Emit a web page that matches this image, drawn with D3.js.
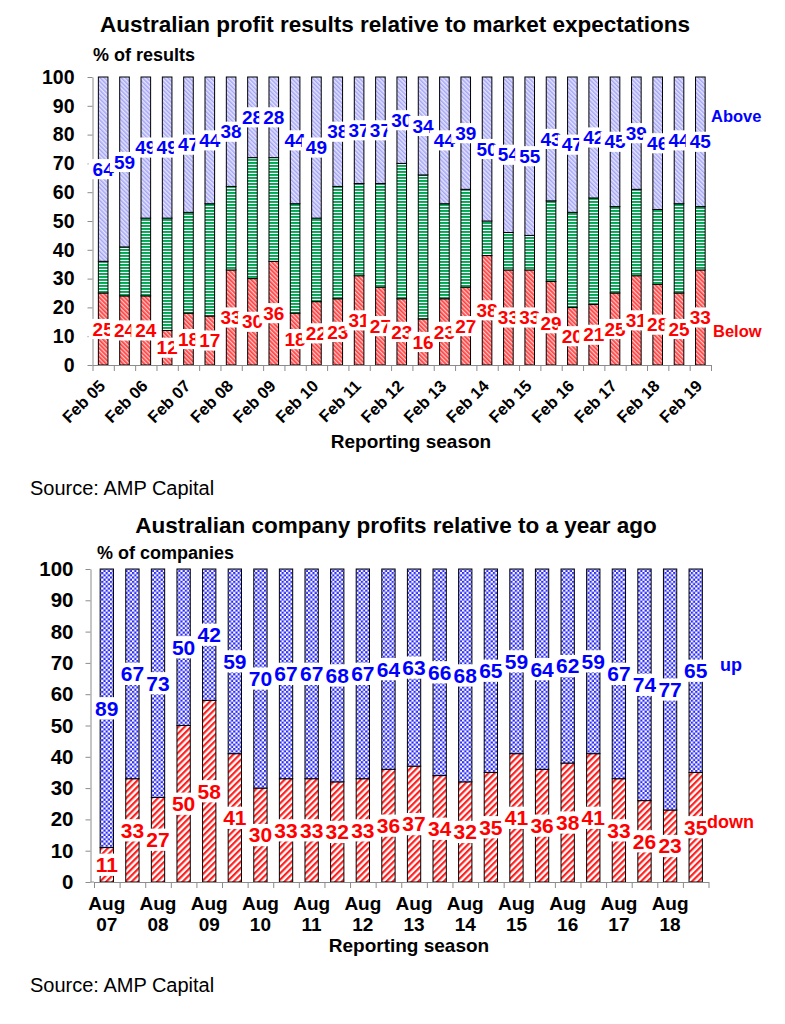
<!DOCTYPE html>
<html>
<head>
<meta charset="utf-8">
<script src="https://cdn.jsdelivr.net/npm/d3@7"></script>
<style>
  body { margin: 0; background: #fff; }
  svg { font-family: Arial, "Liberation Sans", sans-serif; }
</style>
</head>
<body>
<svg id="chart" width="785" height="1024"></svg>
<script>
// --- Data: profit results vs expectations (top chart) ---
const resultSeasons = ["Feb 05","Aug 05","Feb 06","Aug 06","Feb 07","Aug 07","Feb 08","Aug 08",
  "Feb 09","Aug 09","Feb 10","Aug 10","Feb 11","Aug 11","Feb 12","Aug 12","Feb 13","Aug 13",
  "Feb 14","Aug 14","Feb 15","Aug 15","Feb 16","Aug 16","Feb 17","Aug 17","Feb 18","Aug 18","Feb 19"];
const resultsBelow = [25,24,24,12,18,17,33,30,36,18,22,23,31,27,23,16,23,27,38,33,33,29,20,21,25,31,28,25,33];
const resultsAbove = [64,59,49,49,47,44,38,28,28,44,49,38,37,37,30,34,44,39,50,54,55,43,47,42,45,39,46,44,45];

// --- Data: profits vs a year ago (bottom chart) ---
const profitSeasons = ["Aug 07","Feb 08","Aug 08","Feb 09","Aug 09","Feb 10","Aug 10","Feb 11",
  "Aug 11","Feb 12","Aug 12","Feb 13","Aug 13","Feb 14","Aug 14","Feb 15","Aug 15","Feb 16",
  "Aug 16","Feb 17","Aug 17","Feb 18","Aug 18","Feb 19"];
const profitsDown = [11,33,27,50,58,41,30,33,33,32,33,36,37,34,32,35,41,36,38,41,33,26,23,35];
const profitsUp   = [89,67,73,50,42,59,70,67,67,68,67,64,63,66,68,65,59,64,62,59,67,74,77,65];

const yTicks = d3.range(0, 101, 10);

const svg = d3.select("#chart");
const defs = svg.append("defs");

// --- Fill patterns ---
function hatch(id, size, bg, fg, lineW, angle) {
  const p = defs.append("pattern")
    .attr("id", id)
    .attr("patternUnits", "userSpaceOnUse")
    .attr("width", size).attr("height", size)
    .attr("patternTransform", `rotate(${angle})`);
  p.append("rect").attr("width", size).attr("height", size).attr("fill", bg);
  p.append("rect").attr("width", lineW).attr("height", size).attr("fill", fg);
}
hatch("pAbove", 3, "#e4e4ff", "#a4a4f4", 1.5, -45);
hatch("pBelow", 3, "#ffc8c8", "#ff4040", 1.7, -45);
hatch("pDown", 4.5, "#ffffff", "#ff1f1f", 2.2, 45);

const pInline = defs.append("pattern")
  .attr("id", "pInline")
  .attr("patternUnits", "userSpaceOnUse")
  .attr("width", 4).attr("height", 3);
pInline.append("rect").attr("width", 4).attr("height", 3).attr("fill", "#ffffff");
pInline.append("rect").attr("width", 4).attr("height", 1.9).attr("fill", "#00a651");

const pUp = defs.append("pattern")
  .attr("id", "pUp")
  .attr("patternUnits", "userSpaceOnUse")
  .attr("width", 4.4).attr("height", 4.4);
pUp.append("rect").attr("width", 4.4).attr("height", 4.4).attr("fill", "#ffffff");
pUp.append("rect").attr("width", 2.2).attr("height", 2.2).attr("fill", "#2b2bf2");
pUp.append("rect").attr("x", 2.2).attr("y", 2.2).attr("width", 2.2).attr("height", 2.2).attr("fill", "#2b2bf2");

// value label with white box; later labels cover earlier ones
function valueLabel(g, x, y, txt, color, size, pad) {
  const lg = g.append("g");
  const t = lg.append("text")
    .attr("x", x).attr("y", y)
    .attr("dy", "0.35em")
    .attr("text-anchor", "middle")
    .attr("font-size", size)
    .attr("font-weight", "bold")
    .attr("fill", color)
    .text(txt);
  const w = t.node().getComputedTextLength();
  lg.insert("rect", "text")
    .attr("x", x - w / 2 - pad)
    .attr("y", y - size * 0.53)
    .attr("width", w + pad * 2)
    .attr("height", size * 1.06)
    .attr("fill", "#fff");
}

function drawAxes(g, cfg, n) {
  const y = cfg.y;
  const yAxis = g.append("g")
    .attr("transform", `translate(${cfg.axisX},0)`)
    .call(d3.axisLeft(y).tickValues(yTicks).tickSize(5).tickSizeOuter(0).tickPadding(cfg.yPad));
  yAxis.selectAll("text")
    .attr("font-size", cfg.yFont)
    .attr("font-weight", "bold")
    .attr("fill", "#000")
    .attr("font-family", "Arial, 'Liberation Sans', sans-serif");
  yAxis.selectAll("line,path").attr("stroke", "#8c8c8c");

  const xb = d3.scaleLinear().domain([0, n]).range(cfg.xRange);
  const xAxis = g.append("g")
    .attr("transform", `translate(0,${y(0)})`)
    .call(d3.axisBottom(xb).tickValues(d3.range(0, n + 1)).tickFormat("").tickSize(6).tickSizeOuter(0));
  xAxis.selectAll("line,path").attr("stroke", "#8c8c8c");
  g.append("line")
    .attr("x1", cfg.axisX).attr("x2", cfg.xRange[0])
    .attr("y1", y(0)).attr("y2", y(0))
    .attr("stroke", "#8c8c8c");
}

// ================= Top chart =================
{
  const g = svg.append("g");
  const y = d3.scaleLinear().domain([0, 100]).range([365, 77]);
  const x = d3.scaleBand().domain(resultSeasons).range([92.5, 711]).paddingInner(0.55).paddingOuter(0.275);
  const n = resultSeasons.length;

  const rows = resultSeasons.map((s, i) => ({
    season: s,
    below: resultsBelow[i],
    above: resultsAbove[i],
    inline: 100 - resultsBelow[i] - resultsAbove[i]
  }));

  const bars = g.selectAll(".bar").data(rows).join("g").attr("class", "bar");
  bars.append("rect")
    .attr("x", d => x(d.season)).attr("width", x.bandwidth())
    .attr("y", d => y(d.below)).attr("height", d => y(0) - y(d.below))
    .attr("fill", "url(#pBelow)").attr("stroke", "#000").attr("stroke-width", 1);
  bars.append("rect")
    .attr("x", d => x(d.season)).attr("width", x.bandwidth())
    .attr("y", d => y(d.below + d.inline)).attr("height", d => y(d.below) - y(d.below + d.inline))
    .attr("fill", "url(#pInline)").attr("stroke", "#000").attr("stroke-width", 1);
  bars.append("rect")
    .attr("x", d => x(d.season)).attr("width", x.bandwidth())
    .attr("y", d => y(100)).attr("height", d => y(100 - d.above) - y(100))
    .attr("fill", "url(#pAbove)").attr("stroke", "#000").attr("stroke-width", 1);

  drawAxes(g, { y: y, axisX: 92.5, xRange: [92.5, 711], yPad: 13, yFont: 19.5 }, n);

  const labels = g.append("g");
  rows.forEach(d => {
    valueLabel(labels, x(d.season) + x.bandwidth() / 2, y(d.below / 2), d.below, "#ff0000", 19, 4);
  });
  rows.forEach(d => {
    valueLabel(labels, x(d.season) + x.bandwidth() / 2, y(100 - d.above / 2), d.above, "#0000ff", 19, 4);
  });

  // season labels (every second one)
  g.append("g").selectAll("text")
    .data(rows.filter((d, i) => i % 2 === 0))
    .join("text")
    .attr("transform", d => `translate(${x(d.season) + x.bandwidth() / 2 + 3},387) rotate(-45)`)
    .attr("text-anchor", "end")
    .attr("font-size", 16.5)
    .attr("font-weight", "bold")
    .text(d => d.season);

  g.append("text").attr("x", 395).attr("y", 32).attr("text-anchor", "middle")
    .attr("font-size", 22.5).attr("font-weight", "bold").text("Australian profit results relative to market expectations");
  g.append("text").attr("x", 93).attr("y", 61)
    .attr("font-size", 18).attr("font-weight", "bold").text("% of results");
  g.append("text").attr("x", 411).attr("y", 448).attr("text-anchor", "middle")
    .attr("font-size", 19).attr("font-weight", "bold").text("Reporting season");
  g.append("text").attr("x", 711).attr("y", 122)
    .attr("font-size", 16.5).attr("font-weight", "bold").attr("fill", "#0000ff").text("Above");
  g.append("text").attr("x", 713).attr("y", 337)
    .attr("font-size", 16.5).attr("font-weight", "bold").attr("fill", "#ff0000").text("Below");
  g.append("text").attr("x", 30).attr("y", 495)
    .attr("font-size", 20).attr("fill", "#000").text("Source: AMP Capital");
}

// ================= Bottom chart =================
{
  const g = svg.append("g");
  const y = d3.scaleLinear().domain([0, 100]).range([882, 569]);
  const x = d3.scaleBand().domain(profitSeasons).range([94, 708.5]).paddingInner(0.48).paddingOuter(0.24);
  const n = profitSeasons.length;

  const rows = profitSeasons.map((s, i) => ({ season: s, down: profitsDown[i], up: profitsUp[i] }));

  const bars = g.selectAll(".bar").data(rows).join("g").attr("class", "bar");
  bars.append("rect")
    .attr("x", d => x(d.season)).attr("width", x.bandwidth())
    .attr("y", d => y(d.down)).attr("height", d => y(0) - y(d.down))
    .attr("fill", "url(#pDown)").attr("stroke", "#000").attr("stroke-width", 1);
  bars.append("rect")
    .attr("x", d => x(d.season)).attr("width", x.bandwidth())
    .attr("y", d => y(100)).attr("height", d => y(100 - d.up) - y(100))
    .attr("fill", "url(#pUp)").attr("stroke", "#000").attr("stroke-width", 1);

  drawAxes(g, { y: y, axisX: 90.5, xRange: [94, 708.5], yPad: 12, yFont: 20.5 }, n);

  const labels = g.append("g");
  rows.forEach(d => {
    valueLabel(labels, x(d.season) + x.bandwidth() / 2, y(d.down / 2), d.down, "#ff0000", 21, 2);
  });
  rows.forEach(d => {
    valueLabel(labels, x(d.season) + x.bandwidth() / 2, y(100 - d.up / 2), d.up, "#0000ff", 21, 2);
  });

  const ticks = g.append("g").selectAll("text")
    .data(rows.filter((d, i) => i % 2 === 0))
    .join("text")
    .attr("text-anchor", "middle")
    .attr("font-size", 19)
    .attr("font-weight", "bold");
  ticks.append("tspan")
    .attr("x", d => x(d.season) + x.bandwidth() / 2).attr("y", 910)
    .text(d => d.season.split(" ")[0]);
  ticks.append("tspan")
    .attr("x", d => x(d.season) + x.bandwidth() / 2).attr("y", 931)
    .text(d => d.season.split(" ")[1]);

  g.append("text").attr("x", 396).attr("y", 533).attr("text-anchor", "middle")
    .attr("font-size", 22.5).attr("font-weight", "bold").text("Australian company profits relative to a year ago");
  g.append("text").attr("x", 97).attr("y", 559)
    .attr("font-size", 18).attr("font-weight", "bold").text("% of companies");
  g.append("text").attr("x", 409).attr("y", 952).attr("text-anchor", "middle")
    .attr("font-size", 19).attr("font-weight", "bold").text("Reporting season");
  g.append("text").attr("x", 720).attr("y", 671)
    .attr("font-size", 18).attr("font-weight", "bold").attr("fill", "#0000ff").text("up");
  g.append("text").attr("x", 707).attr("y", 828)
    .attr("font-size", 18).attr("font-weight", "bold").attr("fill", "#ff0000").text("down");
  g.append("text").attr("x", 30).attr("y", 992)
    .attr("font-size", 20).attr("fill", "#000").text("Source: AMP Capital");
}
</script>
</body>
</html>
